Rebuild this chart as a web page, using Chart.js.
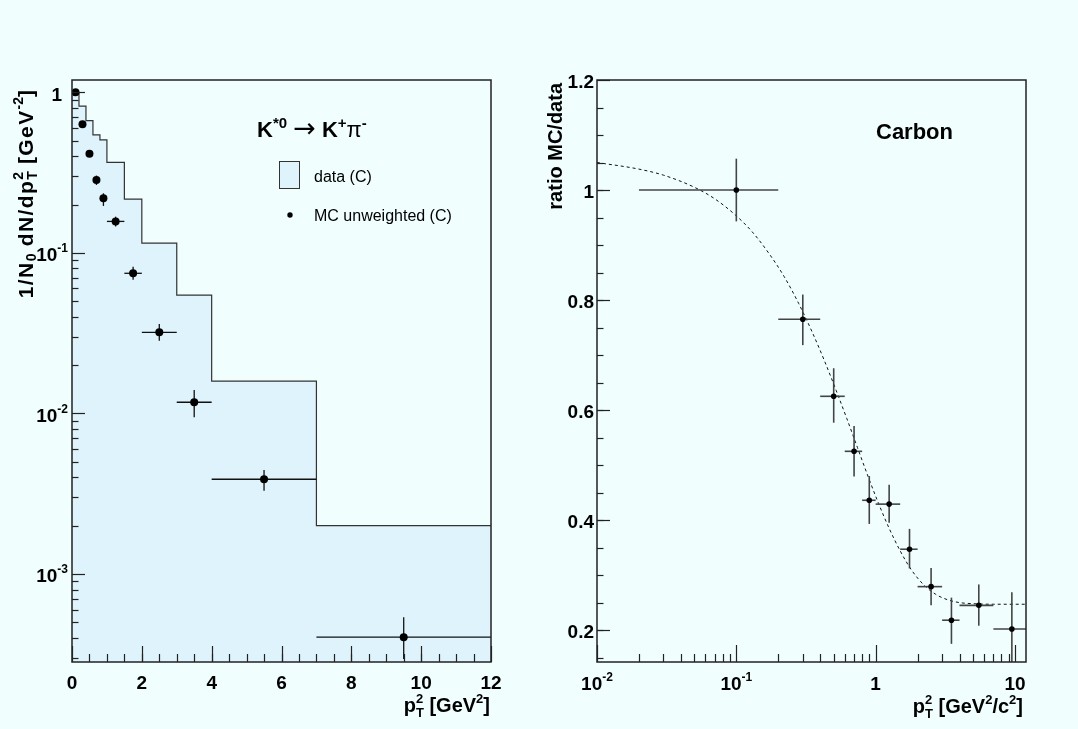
<!DOCTYPE html>
<html>
<head>
<meta charset="utf-8">
<title>K*0 pT2 spectrum - Carbon</title>
<script src="https://cdn.jsdelivr.net/npm/chart.js@4.4.0/dist/chart.umd.min.js"></script>
<style>
  html, body { margin: 0; padding: 0; background: #f0fefe; }
  #wrap { position: relative; width: 1078px; height: 729px; background: #f0fefe; }
  canvas { position: absolute; top: 0; }
</style>
</head>
<body>
<div id="wrap">
  <canvas id="chartSpectrum" width="539" height="729" style="left:0"></canvas>
  <canvas id="chartRatio" width="539" height="729" style="left:539px"></canvas>
</div>
<script>
// ── datos panel izquierdo: espectro pT^2 ──
const binEdges = [0, 0.2, 0.4, 0.6, 0.8, 1.0, 1.5, 2, 3, 4, 7, 12];
const dataContent = [1.0, 0.82, 0.667, 0.543, 0.505, 0.366, 0.216, 0.115, 0.0545, 0.0159, 0.0020];
const mcX = [0.1, 0.3, 0.5, 0.7, 0.9, 1.25, 1.75, 2.5, 3.5, 5.5, 9.5];
const mcY = [1.0, 0.632, 0.415, 0.284, 0.219, 0.157, 0.0746, 0.0320, 0.01174, 0.00389, 0.000404];
const mcYLo = [0.985, 0.62, 0.405, 0.265, 0.196, 0.146, 0.068, 0.0284, 0.00946, 0.0033, 0.000295];
const mcYHi = [1.015, 0.645, 0.425, 0.303, 0.235, 0.168, 0.0818, 0.0361, 0.0140, 0.00445, 0.000538];

// ── datos panel derecho: ratio MC/data ──
const ratioX = [0.1, 0.3, 0.5, 0.7, 0.9, 1.25, 1.75, 2.5, 3.5, 5.5, 9.5];
const ratioY = [1.0, 0.765, 0.625, 0.525, 0.436, 0.429, 0.347, 0.279, 0.218, 0.245, 0.202];
const ratioYLo = [0.943, 0.718, 0.577, 0.479, 0.393, 0.395, 0.312, 0.245, 0.175, 0.208, 0.12];
const ratioYHi = [1.057, 0.81, 0.676, 0.571, 0.480, 0.464, 0.384, 0.313, 0.259, 0.283, 0.269];
const ratioXLo = [0.02, 0.2, 0.4, 0.6, 0.8, 1.0, 1.5, 2, 3, 4, 7];
const ratioXHi = [0.2, 0.4, 0.6, 0.8, 1.0, 1.5, 2, 3, 4, 7, 12];
// curva de ajuste
const fitX = [0.01, 0.02, 0.03, 0.05, 0.07, 0.1, 0.13, 0.17, 0.22, 0.28, 0.35, 0.43, 0.52, 0.62, 0.74, 0.88, 1.05, 1.25, 1.5, 1.8, 2.2, 2.7, 3.3, 4.0, 5.0, 7.0, 12];
const fitY = [1.050, 1.038, 1.027, 1.005, 0.984, 0.953, 0.924, 0.886, 0.843, 0.794, 0.742, 0.689, 0.636, 0.585, 0.532, 0.480, 0.430, 0.385, 0.344, 0.310, 0.283, 0.265, 0.255, 0.250, 0.248, 0.247, 0.247];

// ── ticks ──
const leftXTicks = [0, 2, 4, 6, 8, 10, 12];
const leftXLabels = ["0", "2", "4", "6", "8", "10", "12"];
const leftYTicks = [1e-3, 1e-2, 1e-1, 1];
const leftYLabels = [["10", "-3"], ["10", "-2"], ["10", "-1"], ["1", ""]];
const rightXTicks = [0.01, 0.1, 1, 10];
const rightXLabels = [["10", "-2"], ["10", "-1"], ["1", ""], ["10", ""]];
const rightYTicks = [0.2, 0.4, 0.6, 0.8, 1.0, 1.2];
const rightYLabels = ["0.2", "0.4", "0.6", "0.8", "1", "1.2"];

const FONT = "'Liberation Sans', Arial, Helvetica, sans-serif";
const FILL = "#def3fb";
const TS = 20, ts = 13;   // tamaño títulos / sub-superíndices
const LS = 19, ls = 12;   // tamaño etiquetas de ejes

const fontOf = r => `${r.bold === false ? "" : "bold "}${r.size}px ${r.family || FONT}`;

function setRun(ctx, r) {
    ctx.font = fontOf(r);
    if ("letterSpacing" in ctx) ctx.letterSpacing = r.sp || "0px";
}

function richWidth(ctx, runs) {
    let w = 0, kept = 0;
    runs.forEach(r => {
        setRun(ctx, r);
        const rw = ctx.measureText(r.t).width;
        if (r.keep) { kept = rw; return; }
        w += Math.max(rw, kept); kept = 0;
    });
    return w;
}

function drawRich(ctx, runs, x, y, align, rot) {
    ctx.save();
    ctx.translate(x, y);
    if (rot) ctx.rotate(rot);
    const w = richWidth(ctx, runs);
    let cx = align === "right" ? -w : align === "center" ? -w / 2 : 0;
    let kept = 0;
    ctx.fillStyle = "#000";
    ctx.textAlign = "left";
    ctx.textBaseline = "alphabetic";
    runs.forEach(r => {
        setRun(ctx, r);
        ctx.fillText(r.t, cx, r.dy || 0);
        const rw = ctx.measureText(r.t).width;
        if (r.keep) { kept = rw; return; }
        cx += Math.max(rw, kept); kept = 0;
    });
    ctx.restore();
}

function line(ctx, x1, y1, x2, y2) {
    ctx.beginPath(); ctx.moveTo(x1, y1); ctx.lineTo(x2, y2); ctx.stroke();
}

function drawFrame(chart) {
    const { ctx, chartArea: a } = chart;
    ctx.save();
    ctx.strokeStyle = "#222";
    ctx.lineWidth = 1.5;
    ctx.strokeRect(a.left, a.top, a.right - a.left, a.bottom - a.top);
    ctx.restore();
}

function drawErrorBars(chart, xs, ys, xlo, xhi, ylo, yhi, color, width) {
    const { ctx, chartArea: a, scales } = chart;
    ctx.save();
    ctx.beginPath();
    ctx.rect(a.left, a.top, a.right - a.left, a.bottom - a.top);
    ctx.clip();
    ctx.strokeStyle = color;
    ctx.lineWidth = width;
    xs.forEach((x, i) => {
        const px = scales.x.getPixelForValue(x), py = scales.y.getPixelForValue(ys[i]);
        line(ctx, scales.x.getPixelForValue(xlo[i]), py, scales.x.getPixelForValue(xhi[i]), py);
        line(ctx, px, scales.y.getPixelForValue(ylo[i]), px, scales.y.getPixelForValue(yhi[i]));
    });
    ctx.restore();
}

// ticks hacia adentro, mayores y menores
function xTicks(chart, majors, minors, majLen, minLen) {
    const { ctx, chartArea: a, scales } = chart;
    ctx.save();
    ctx.strokeStyle = "#222";
    ctx.lineWidth = 1.2;
    minors.forEach(v => {
        const p = Math.round(scales.x.getPixelForValue(v)) + 0.5;
        if (p > a.left + 1 && p < a.right - 1) line(ctx, p, a.bottom, p, a.bottom - minLen);
    });
    majors.forEach(v => {
        const p = Math.round(scales.x.getPixelForValue(v)) + 0.5;
        line(ctx, p, a.bottom, p, a.bottom - majLen);
    });
    ctx.restore();
}

function yTicks(chart, majors, minors, majLen, minLen) {
    const { ctx, chartArea: a, scales } = chart;
    ctx.save();
    ctx.strokeStyle = "#222";
    ctx.lineWidth = 1.2;
    minors.forEach(v => {
        const p = Math.round(scales.y.getPixelForValue(v)) + 0.5;
        if (p > a.top + 1 && p < a.bottom - 1) line(ctx, a.left, p, a.left + minLen, p);
    });
    majors.forEach(v => {
        const p = Math.round(scales.y.getPixelForValue(v)) + 0.5;
        line(ctx, a.left, p, a.left + majLen, p);
    });
    ctx.restore();
}

function logMinors(lo, hi) {
    const out = [];
    for (let e = Math.floor(Math.log10(lo)); e <= Math.ceil(Math.log10(hi)); e++) {
        for (let k = 2; k <= 9; k++) {
            const v = k * Math.pow(10, e);
            if (v > lo && v < hi) out.push(v);
        }
    }
    return out;
}

// ── 1. Espectro pT^2 ──
const spectrumDecor = {
    id: "spectrumDecor",
    afterDatasetDraw(chart, args) {
        if (args.index !== 1) return;
        drawErrorBars(chart, mcX, mcY, binEdges.slice(0, -1), binEdges.slice(1), mcYLo, mcYHi, "#111", 1.3);
    },
    afterDraw(chart) {
        const { ctx, scales } = chart;
        drawFrame(chart);

        const xMinor = [];
        for (let v = 0; v <= 12; v += 0.5) xMinor.push(v);
        xTicks(chart, leftXTicks, xMinor, 16, 8);
        yTicks(chart, leftYTicks, logMinors(scales.y.min, scales.y.max), 13, 6.5);

        leftXTicks.forEach((v, i) => {
            drawRich(ctx, [{ t: leftXLabels[i], size: LS }], scales.x.getPixelForValue(v), 689, "center");
        });
        leftYTicks.forEach((v, i) => {
            const [base, sup] = leftYLabels[i];
            const runs = [{ t: base, size: LS }];
            if (sup) runs.push({ t: sup, size: ls, dy: -9 });
            drawRich(ctx, runs, sup ? 68 : 62, scales.y.getPixelForValue(v) + 8.5, "right");
        });

        // títulos de ejes
        const sp = "1.4px";
        drawRich(ctx, [
            { t: "1/N", size: 21, sp }, { t: "0", size: 14, dy: 3 }, { t: " dN/dp", size: 21, sp },
            { t: "2", size: 14, dy: -10, keep: true }, { t: "T", size: 14, dy: 4 },
            { t: " [GeV", size: 21, sp }, { t: "-2", size: 14, dy: -10 }, { t: "]", size: 21 }
        ], 33, 90, "right", -Math.PI / 2);
        drawRich(ctx, [
            { t: "p", size: TS }, { t: "2", size: ts, dy: -9, keep: true }, { t: "T", size: ts, dy: 5 },
            { t: " [GeV", size: TS }, { t: "2", size: ts, dy: -9 }, { t: "]", size: TS }
        ], 490, 712, "right");

        // leyenda
        drawRich(ctx, [
            { t: "K", size: 22 }, { t: "*0", size: 15, dy: -9 }, { t: " ", size: 22 },
            { t: "\u2192", size: 27, bold: false, family: "'DejaVu Sans', sans-serif" }, { t: " ", size: 22 },
            { t: "K", size: 22 }, { t: "+", size: 15, dy: -9 }, { t: "\u03C0", size: 22, bold: false },
            { t: "-", size: 15, dy: -9 }
        ], 257, 137, "left");
        ctx.save();
        ctx.fillStyle = FILL;
        ctx.strokeStyle = "#333";
        ctx.lineWidth = 1;
        ctx.fillRect(279.5, 161.5, 20, 27);
        ctx.strokeRect(279.5, 161.5, 20, 27);
        ctx.fillStyle = "#000";
        ctx.beginPath();
        ctx.arc(290, 215, 2.7, 0, Math.PI * 2);
        ctx.fill();
        ctx.restore();
        drawRich(ctx, [{ t: "data (C)", size: 16, bold: false }], 314, 182, "left");
        drawRich(ctx, [{ t: "MC unweighted (C)", size: 16, bold: false }], 314, 221, "left");
    }
};

new Chart(document.getElementById("chartSpectrum"), {
    type: "line",
    data: {
        datasets: [
            {
                label: "MC unweighted (C)",
                data: mcX.map((x, i) => ({ x, y: mcY[i] })),
                showLine: false,
                pointRadius: 4,
                pointBackgroundColor: "#000",
                pointBorderWidth: 0,
                order: 0
            },
            {
                label: "data (C)",
                data: binEdges.map((x, i) => ({ x, y: dataContent[Math.min(i, dataContent.length - 1)] })),
                stepped: "before",
                borderColor: "#333",
                borderWidth: 1.2,
                backgroundColor: FILL,
                fill: "start",
                pointRadius: 0,
                order: 1
            }
        ]
    },
    options: {
        responsive: false,
        devicePixelRatio: 1,
        animation: false,
        layout: { padding: { top: 80, right: 48, bottom: 27, left: 0 } },
        plugins: { legend: { display: false }, tooltip: { enabled: false } },
        scales: {
            x: {
                type: "linear", min: 0, max: 12, bounds: "data",
                grid: { display: false }, border: { display: false }, ticks: { display: false },
                afterFit: s => { s.height = 40; }
            },
            y: {
                type: "logarithmic", min: 2.83e-4, max: 1.193, bounds: "data",
                grid: { display: false }, border: { display: false }, ticks: { display: false },
                afterFit: s => { s.width = 72; }
            }
        }
    },
    plugins: [spectrumDecor]
});

// ── 2. Ratio MC/data ──
const OFF = 539;
const ratioDecor = {
    id: "ratioDecor",
    afterDatasetDraw(chart, args) {
        if (args.index !== 1) return;
        drawErrorBars(chart, ratioX, ratioY, ratioXLo, ratioXHi, ratioYLo, ratioYHi, "#444", 1.6);
    },
    afterDraw(chart) {
        const { ctx, scales } = chart;
        drawFrame(chart);

        xTicks(chart, rightXTicks, logMinors(scales.x.min, scales.x.max), 17, 8);
        const yMinor = [];
        for (let v = 0.15; v < 1.2; v += 0.05) yMinor.push(v);
        yTicks(chart, rightYTicks, yMinor, 13, 6.5);

        rightXTicks.forEach((v, i) => {
            const [base, sup] = rightXLabels[i];
            const runs = [{ t: base, size: LS }];
            if (sup) runs.push({ t: sup, size: ls, dy: -9 });
            drawRich(ctx, runs, scales.x.getPixelForValue(v), 690, "center");
        });
        rightYTicks.forEach((v, i) => {
            drawRich(ctx, [{ t: rightYLabels[i], size: LS }], 594 - OFF, scales.y.getPixelForValue(v) + 8, "right");
        });

        drawRich(ctx, [{ t: "ratio MC/data", size: TS }], 562 - OFF, 83, "right", -Math.PI / 2);
        drawRich(ctx, [
            { t: "p", size: TS }, { t: "2", size: ts, dy: -9, keep: true }, { t: "T", size: ts, dy: 5 },
            { t: " [GeV", size: TS }, { t: "2", size: ts, dy: -9 }, { t: "/c", size: TS },
            { t: "2", size: ts, dy: -9 }, { t: "]", size: TS }
        ], 1023 - OFF, 713, "right");

        drawRich(ctx, [{ t: "Carbon", size: 22 }], 876 - OFF, 139, "left");
    }
};

new Chart(document.getElementById("chartRatio"), {
    type: "line",
    data: {
        datasets: [
            {
                label: "ratio",
                data: ratioX.map((x, i) => ({ x, y: ratioY[i] })),
                showLine: false,
                pointRadius: 2.8,
                pointBackgroundColor: "#000",
                pointBorderWidth: 0,
                order: 0
            },
            {
                label: "fit",
                data: fitX.map((x, i) => ({ x, y: fitY[i] })),
                borderColor: "#111",
                borderWidth: 1,
                borderDash: [3, 3],
                cubicInterpolationMode: "monotone",
                pointRadius: 0,
                fill: false,
                order: 1
            }
        ]
    },
    options: {
        responsive: false,
        devicePixelRatio: 1,
        animation: false,
        layout: { padding: { top: 80, right: 52, bottom: 27, left: 0 } },
        plugins: { legend: { display: false }, tooltip: { enabled: false } },
        scales: {
            x: {
                type: "logarithmic", min: 0.01, max: 12, bounds: "data",
                grid: { display: false }, border: { display: false }, ticks: { display: false },
                afterFit: s => { s.height = 40; }
            },
            y: {
                type: "linear", min: 0.142, max: 1.2, bounds: "data",
                grid: { display: false }, border: { display: false }, ticks: { display: false },
                afterFit: s => { s.width = 58; }
            }
        }
    },
    plugins: [ratioDecor]
});
</script>
</body>
</html>
